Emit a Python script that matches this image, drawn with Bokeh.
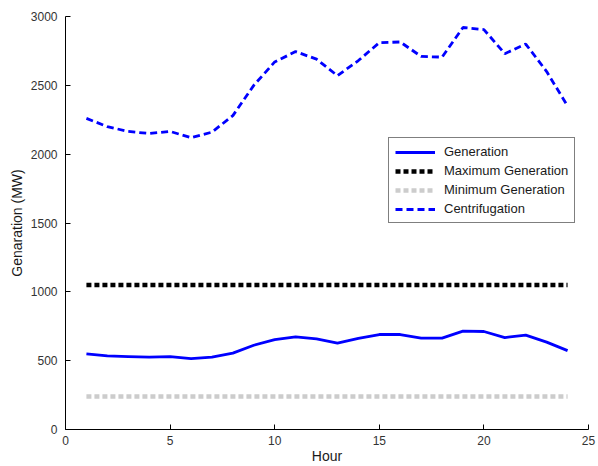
from bokeh.plotting import figure
from bokeh.models import Range1d, SingleIntervalTicker, Legend, LegendItem
from bokeh.embed import file_html
from bokeh.resources import INLINE

hours = list(range(1, 25))
generation = [550, 535, 530, 525, 530, 515, 526, 555, 612, 653, 673, 658, 628, 662,
              690, 690, 664, 664, 715, 712, 668, 686, 635, 573]
centrifugation = [2260, 2200, 2165, 2150, 2165, 2120, 2160, 2280, 2500, 2670, 2745, 2690,
                  2570, 2680, 2810, 2815, 2710, 2705, 2920, 2905, 2730, 2800, 2600, 2350]
max_generation = [1050] * 24
min_generation = [240] * 24

FONT = "Liberation Sans"

p = figure(width=598, height=466, output_backend="svg", toolbar_location=None,
           x_range=Range1d(0, 25), y_range=Range1d(0, 3000),
           min_border_left=65, min_border_right=10, min_border_top=16, min_border_bottom=37)
p.outline_line_color = None
p.xgrid.visible = False
p.ygrid.visible = False

r_gen = p.line(hours, generation, line_color="#0000ff", line_width=2.8)
r_max = p.line(hours, max_generation, line_color="#000000", line_width=4.5, line_dash="5 3")
r_min = p.line(hours, min_generation, line_color="#cccccc", line_width=4.5, line_dash="5 3")
r_cen = p.line(hours, centrifugation, line_color="#0000ff", line_width=2.8, line_dash="7 4")

for ax, ticker in ((p.xaxis[0], 5), (p.yaxis[0], 500)):
    ax.ticker = SingleIntervalTicker(interval=ticker)
    ax.minor_tick_line_color = None
    ax.major_tick_in = 5
    ax.major_tick_out = 0
    ax.axis_line_color = "#000000"
    ax.major_tick_line_color = "#000000"
    ax.major_label_text_font = FONT
    ax.major_label_text_font_size = "12px"
    ax.major_label_text_color = "#333333"
    ax.axis_label_text_font = FONT
    ax.axis_label_text_font_size = "14px"
    ax.axis_label_text_font_style = "normal"
    ax.axis_label_text_color = "#1a1a1a"

p.xaxis[0].axis_label = "Hour"
p.xaxis[0].major_label_standoff = 2
p.xaxis[0].axis_label_standoff = 0
p.yaxis[0].axis_label = "Genaration (MW)"
p.yaxis[0].major_label_standoff = 4
p.yaxis[0].axis_label_standoff = 3

legend = Legend(items=[
    LegendItem(label="Generation", renderers=[r_gen]),
    LegendItem(label="Maximum Generation", renderers=[r_max]),
    LegendItem(label="Minimum Generation", renderers=[r_min]),
    LegendItem(label="Centrifugation", renderers=[r_cen]),
], location=(323, 206))
legend.border_line_color = "#000000"
legend.border_line_width = 1
legend.background_fill_color = "#ffffff"
legend.background_fill_alpha = 1
legend.label_text_font = FONT
legend.label_text_font_size = "13px"
legend.label_text_color = "#1a1a1a"
legend.glyph_width = 40
legend.glyph_height = 14
legend.label_height = 14
legend.spacing = 4
legend.padding = 6
legend.margin = 0
legend.label_standoff = 9
p.add_layout(legend, "center")

open("out.html", "w").write(file_html(p, INLINE))
